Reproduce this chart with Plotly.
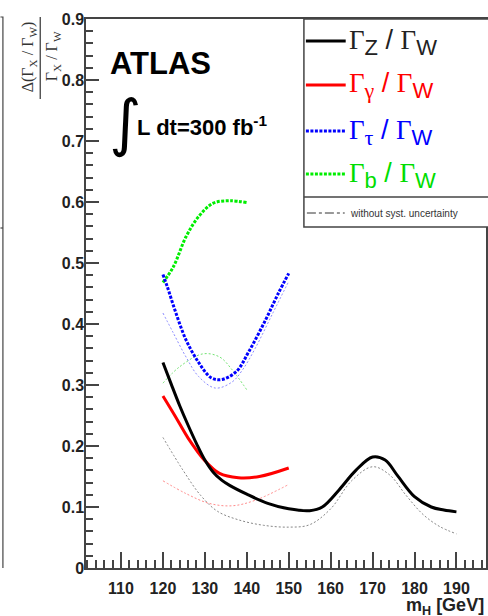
import plotly.graph_objects as go

# ---------------- data ----------------
mZ = [120, 122, 124, 126, 128, 130, 132, 134, 136, 140, 145, 150, 155, 158, 162, 166, 170, 173, 176, 180, 184, 187, 190]
rZ = [0.337, 0.301, 0.266, 0.234, 0.204, 0.177, 0.157, 0.144, 0.135, 0.121, 0.106, 0.097, 0.094, 0.100, 0.128, 0.160, 0.182, 0.177, 0.151, 0.117, 0.100, 0.095, 0.092]

mZ0 = [120, 125, 129, 133, 138, 144, 150, 155, 160, 165, 170, 174, 178, 182, 186, 190]
rZ0 = [0.214, 0.158, 0.119, 0.093, 0.079, 0.070, 0.067, 0.071, 0.097, 0.143, 0.166, 0.153, 0.119, 0.088, 0.068, 0.056]

mG = [120, 123, 126, 130, 133.5, 138, 143, 150]
rG = [0.282, 0.248, 0.213, 0.176, 0.155, 0.148, 0.150, 0.164]

mG0 = [120, 125.5, 131, 136.5, 142, 150]
rG0 = [0.143, 0.122, 0.106, 0.102, 0.111, 0.137]

mT = [120, 121, 123, 125.5, 128.5, 131.5, 134, 137.5, 140.5, 144.5, 147.5, 150]
rT = [0.481, 0.462, 0.420, 0.374, 0.337, 0.312, 0.309, 0.322, 0.355, 0.407, 0.450, 0.483]

mT0 = [120, 122.5, 125.5, 128.5, 132.5, 136.5, 139, 142, 146, 150]
rT0 = [0.418, 0.385, 0.346, 0.314, 0.295, 0.305, 0.325, 0.360, 0.415, 0.470]

mB = [120, 122.5, 125.5, 128.5, 132, 136, 140]
rB = [0.468, 0.494, 0.543, 0.576, 0.598, 0.602, 0.599]

mB0 = [120, 124, 129.5, 133.5, 136.5, 140]
rB0 = [0.303, 0.330, 0.351, 0.346, 0.325, 0.292]

x_ticks = [110, 120, 130, 140, 150, 160, 170, 180, 190]

# ---------------- geometry helpers (pixel -> paper) ----------------
W, H = 488, 616
L, R, T, B = 86, 0, 19, 48
PW, PH = W - L - R, H - T - B


def px(x):
    return (x - L) / PW


def py(y):
    return (H - B - y) / PH


fig = go.Figure()

# thin "without syst. uncertainty" curves
thin = dict(width=1, dash="2px,2px")
fig.add_trace(go.Scatter(x=mZ0, y=rZ0, mode="lines", line=dict(color="#555555", shape="spline", **thin), opacity=0.7))
fig.add_trace(go.Scatter(x=mG0, y=rG0, mode="lines", line=dict(color="#ff0000", shape="spline", **thin), opacity=0.45))
fig.add_trace(go.Scatter(x=mT0, y=rT0, mode="lines", line=dict(color="#0000ff", shape="spline", **thin), opacity=0.45))
fig.add_trace(go.Scatter(x=mB0, y=rB0, mode="lines", line=dict(color="#00cc00", shape="spline", **thin), opacity=0.55))

# thick curves
fig.add_trace(go.Scatter(x=mB, y=rB, mode="lines", line=dict(color="#00ee00", width=3, dash="3px,1.5px", shape="spline")))
fig.add_trace(go.Scatter(x=mT, y=rT, mode="lines", line=dict(color="#0000ff", width=3, dash="3px,1.5px", shape="spline")))
fig.add_trace(go.Scatter(x=mG, y=rG, mode="lines", line=dict(color="#ff0000", width=3, shape="spline")))
fig.add_trace(go.Scatter(x=mZ, y=rZ, mode="lines", line=dict(color="#000000", width=3, shape="spline")))

axcol = "#444444"
tickfont = dict(family="Liberation Sans, Arial", size=16, color="#222222", weight="bold")

fig.update_xaxes(
    range=[101.65, 197.05], showline=True, linecolor=axcol, linewidth=1.5, mirror=True,
    ticks="inside", ticklen=16, tickwidth=1.5, tickcolor=axcol,
    tickvals=x_ticks, tickfont=tickfont, showgrid=False, zeroline=False,
    ticklabelstandoff=5,
    minor=dict(ticks="inside", ticklen=8, tickwidth=1.5, tickcolor=axcol, dtick=2, tick0=100, showgrid=False),
)
fig.update_yaxes(
    range=[0, 0.9], showline=True, linecolor=axcol, linewidth=1.5, mirror=True,
    ticks="inside", ticklen=13, tickwidth=1.5, tickcolor=axcol,
    dtick=0.1, tick0=0, tickfont=tickfont, showgrid=False, zeroline=False,
    ticklabelstandoff=-3,
    minor=dict(ticks="inside", ticklen=7, tickwidth=1.5, tickcolor=axcol, dtick=0.02, tick0=0, showgrid=False),
)

shapes = []
annos = []

# legend box
shapes.append(dict(type="rect", xref="paper", yref="paper", x0=px(305), x1=px(495), y0=py(227), y1=py(19),
                   line=dict(color=axcol, width=1.5), fillcolor="white", layer="above"))
shapes.append(dict(type="line", xref="paper", yref="paper", x0=px(305), x1=px(495), y0=py(197), y1=py(197),
                   line=dict(color=axcol, width=1.5)))

leg = [
    ("#000000", "solid", 41, "Z", "#222222"),
    ("#ff0000", "solid", 85, "γ", "#ff0000"),
    ("#0000ff", "3px,1.5px", 131, "τ", "#0000ff"),
    ("#00ee00", "3px,1.5px", 174, "b", "#00dd00"),
]
for col, dash, yy, sub, tcol in leg:
    shapes.append(dict(type="line", xref="paper", yref="paper", x0=px(307), x1=px(347), y0=py(yy), y1=py(yy),
                       line=dict(color=col, width=3, dash=dash)))
    subfont = "Liberation Serif" if sub in ("γ", "τ") else "Liberation Sans"
    txt = (f"Γ<sub><span style='font-family:{subfont};font-size:22px'>{sub}</span></sub>"
           f"<span style='font-family:Liberation Sans'> / </span>"
           f"Γ<sub><span style='font-family:Liberation Sans;font-size:22px'>W</span></sub>")
    annos.append(dict(xref="paper", yref="paper", x=px(348), y=py(yy + 1), xanchor="left", yanchor="middle",
                      text=txt, showarrow=False, font=dict(family="Liberation Serif", size=27, color=tcol)))

# without syst. uncertainty
shapes.append(dict(type="line", xref="paper", yref="paper", x0=px(308), x1=px(346), y0=py(213), y1=py(213),
                   line=dict(color="#333333", width=1, dash="dashdot")))
annos.append(dict(xref="paper", yref="paper", x=px(349), y=py(213), xanchor="left", yanchor="middle",
                  text="without syst. uncertainty", showarrow=False,
                  font=dict(family="Liberation Sans", size=10, color="#333333")))

# ATLAS label
annos.append(dict(xref="paper", yref="paper", x=px(108), y=py(63), xanchor="left", yanchor="middle",
                  text="ATLAS", showarrow=False,
                  font=dict(family="Liberation Sans", size=31, color="#000000", weight="bold")))
annos.append(dict(xref="paper", yref="paper", x=px(107), y=py(123), xanchor="left", yanchor="middle",
                  text="∫", showarrow=False,
                  font=dict(family="DejaVu Sans", size=62, color="#000000")))
annos.append(dict(xref="paper", yref="paper", x=px(135), y=py(126), xanchor="left", yanchor="middle",
                  text="L dt=300 fb<sup>-1</sup>", showarrow=False,
                  font=dict(family="Liberation Sans", size=22, color="#000000", weight="bold")))

# y-axis title as a rotated fraction
annos.append(dict(xref="paper", yref="paper", x=px(28), y=py(57), xanchor="center", yanchor="middle",
                  text="Δ(Γ<sub>X</sub> / Γ<sub>W</sub>)", textangle=-90, showarrow=False,
                  font=dict(family="Liberation Serif", size=16, color="#333333")))
shapes.append(dict(type="line", xref="paper", yref="paper", x0=px(40), x1=px(40), y0=py(17), y1=py(99),
                   line=dict(color="#333333", width=1.2)))
annos.append(dict(xref="paper", yref="paper", x=px(52), y=py(56), xanchor="center", yanchor="middle",
                  text="Γ<sub>X</sub> / Γ<sub>W</sub>", textangle=-90, showarrow=False,
                  font=dict(family="Liberation Serif", size=16, color="#333333")))

# x-axis title (cut at the right edge as in the reference)
annos.append(dict(xref="paper", yref="paper", x=px(406), y=py(606), xanchor="left", yanchor="middle",
                  text="m<sub>H</sub> [GeV]", showarrow=False,
                  font=dict(family="Liberation Sans", size=18, color="#222222", weight="bold")))

# neighbouring panel edge at the far left
shapes.append(dict(type="path", xref="paper", yref="paper",
                   path=f"M {px(0)} {py(17)} L {px(2.5)} {py(17)} L {px(2.5)} {py(568)}",
                   line=dict(color="#444444", width=1.2)))
shapes.append(dict(type="line", xref="paper", yref="paper", x0=px(0), x1=px(2.5), y0=py(228), y1=py(228),
                   line=dict(color="#444444", width=1.2)))

fig.update_layout(
    width=W, height=H, margin=dict(l=L, r=R, t=T, b=B),
    paper_bgcolor="white", plot_bgcolor="white", showlegend=False,
    shapes=shapes, annotations=annos,
)

fig.write_html("out.html", config={"displayModeBar": False},
               post_script="document.body.style.margin='0';document.body.style.overflow='hidden';")
